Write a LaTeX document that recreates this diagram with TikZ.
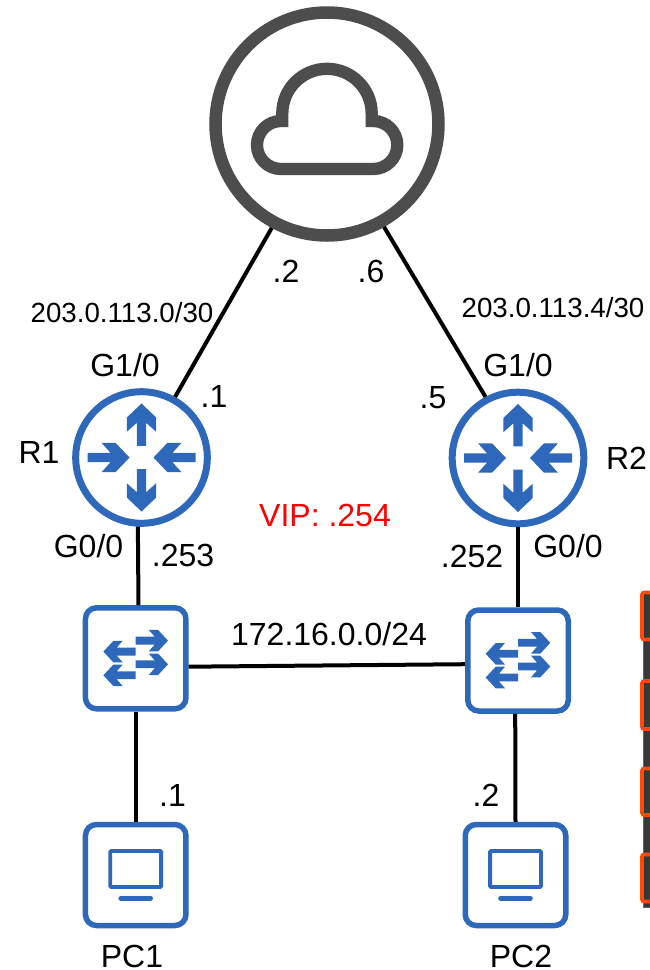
\documentclass[tikz,border=0pt]{standalone}
\usepackage{fontspec}
\setmainfont{Liberation Sans}
\definecolor{netblue}{HTML}{2E68BA}
\definecolor{cloudgray}{HTML}{4D4D4D}
\definecolor{edgeorange}{HTML}{FF4A0A}
\definecolor{panel}{HTML}{383838}
\tikzset{
  lab/.style={font=\fontsize{32}{38}\selectfont,inner sep=0pt,text=black},
  smalllab/.style={font=\fontsize{27.7}{33}\selectfont,inner sep=0pt,text=black},
  link/.style={draw=black,line width=4pt},
  routerbox/.style={circle,draw=netblue,line width=7pt,fill=white,minimum size=131.6pt,inner sep=0pt},
  devbox/.style={rectangle,draw=netblue,line width=5.5pt,fill=white,rounded corners=11pt,minimum width=100.5pt,minimum height=101pt,inner sep=0pt},
  cloudbox/.style={circle,draw=cloudgray,line width=12.5pt,fill=white,minimum size=223pt,inner sep=0pt},
  outarrow/.pic={\fill[netblue] (0,-54)--(14.7,-40)--(14.7,-25.7)--(4.7,-34.7)--(4.7,-11.7)--(-4.7,-11.7)--(-4.7,-34.7)--(-14.7,-25.7)--(-14.7,-40)--cycle;},
  inarrow/.pic={\fill[netblue] (-12,0)--(-26,14.7)--(-40,14.7)--(-31,4.7)--(-54,4.7)--(-54,-4.7)--(-31,-4.7)--(-40,-14.7)--(-26,-14.7)--cycle;},
  swarrow/.pic={\fill[netblue] (0,-3.9)--(19,-3.9)--(13,-10.8)--(22.3,-10.8)--(32.3,0)--(22.3,10.8)--(13,10.8)--(19,3.9)--(0,3.9)--cycle;},
  routericon/.pic={
    \pic at (0,0) {outarrow};
    \pic[yscale=-1] at (0,0) {outarrow};
    \pic at (0,0) {inarrow};
    \pic[xscale=-1] at (0,0) {inarrow};
  },
  switchicon/.pic={
    \pic at (0,17.7) {swarrow};
    \pic at (0,-6) {swarrow};
    \pic[xscale=-1] at (0,6.7) {swarrow};
    \pic[xscale=-1] at (0,-17) {swarrow};
  },
  pcicon/.pic={
    \draw[netblue,line width=3.8pt,rounded corners=1pt] (-25.4,24) rectangle (25.4,-12);
    \draw[netblue,line width=4.6pt,line cap=round] (-15,-23.3) -- (15,-23.3);
  },
}
\begin{document}
\begin{tikzpicture}[x=1pt,y=1pt,yscale=-1]
\useasboundingbox (0,0) rectangle (650,970);
\fill[white] (0,0) rectangle (650,970);

% clipped panel at the right edge
\begin{scope}
\clip (0,0) rectangle (650,970);
\fill[panel,draw=gray!80!black,line width=1pt] (643,600) rectangle (660,907);
\foreach \ya/\yb in {592.5/639.5,681/729,768.5/815,854.5/901.5}{
  \draw[edgeorange,fill=panel,line width=3.6pt,rounded corners=2pt] (660,\ya) -- (642,\ya) -- (642,\yb) -- (660,\yb);
}
\end{scope}

\node[cloudbox] (cloud) at (327,124) {};
\node[routerbox] (R1) at (141.5,457.5) {};
\node[routerbox] (R2) at (518,458) {};
\node[devbox] (SW1) at (135.7,658.3) {};
\node[devbox] (SW2) at (518,660.5) {};
\node[devbox] (PC1) at (135.7,875) {};
\node[devbox] (PC2) at (515.5,875) {};

% cloud glyph
\draw[cloudgray,line width=12.3pt,line join=miter,miter limit=10]
  (281,169) arc[start angle=90,end angle=270,radius=24]
  -- (282.3,121) -- (282.3,113.5) arc[start angle=180,end angle=360,radius=44.7]
  -- (371.7,121) -- (373.3,121) arc[start angle=-90,end angle=90,radius=24] -- cycle;

\pic at (R1.center) {routericon};
\pic at (R2.center) {routericon};
\pic at (SW1.center) {switchicon};
\pic at (SW2.center) {switchicon};
\pic at (PC1.center) {pcicon};
\pic at (PC2.center) {pcicon};

% connectors
\draw[link] (R1.61.6) -- (cloud.242.8);
\draw[link] (R2.118) -- (cloud.299.2);
\draw[link] (R1.267) -- (SW1.87);
\draw[link] (R2.270) -- (SW2.north);
\draw[link] (SW1.-9.3) -- (SW2.184.8);
\draw[link] (SW1.south) -- (PC1.north);
\draw[link] (SW2.267) -- (PC2.north);

% labels
\node[lab] (tR1) at (39,452) {R1};
\node[lab] (tR2) at (626.5,458) {R2};
\node[lab] (tG1a) at (125,365) {G1/0};
\node[lab] (tG1b) at (518,365) {G1/0};
\node[lab] (ta) at (214,396) {.1};
\node[lab] (tb) at (286,271) {.2};
\node[lab] (tc) at (371,271) {.6};
\node[lab] (td) at (433,398) {.5};
\node[smalllab] (tnet1) at (122,313) {203.0.113.0/30};
\node[smalllab] (tnet2) at (553,308) {203.0.113.4/30};
\node[lab,text=red] (tvip) at (325,515) {VIP: .254};
\node[lab] (tG0a) at (88.5,546) {G0/0};
\node[lab] (tG0b) at (568,546) {G0/0};
\node[lab] (te) at (183,555) {.253};
\node[lab] (tf) at (472,556) {.252};
\node[lab] (tlan) at (329,634) {172.16.0.0/24};
\node[lab] (tg) at (172.5,795) {.1};
\node[lab] (th) at (486,795) {.2};
\node[lab] (tPC1) at (132,956) {PC1};
\node[lab] (tPC2) at (521,956) {PC2};
\end{tikzpicture}
\end{document}
